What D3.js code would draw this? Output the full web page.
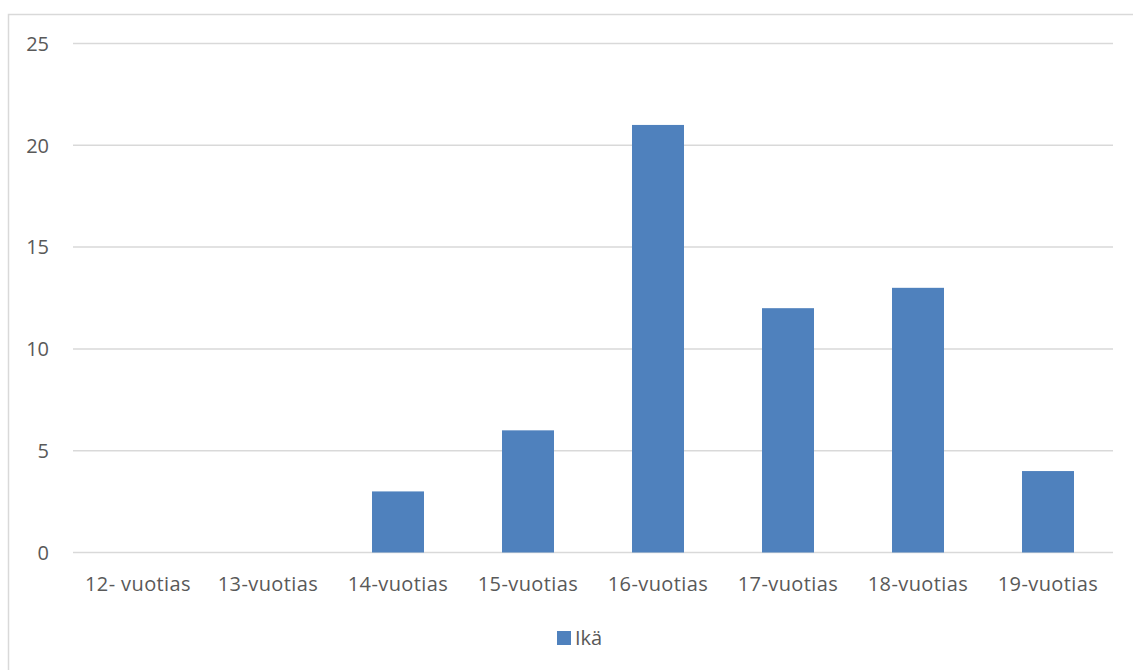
<!DOCTYPE html>
<html>
<head>
<meta charset="utf-8">
<script src="https://cdn.jsdelivr.net/npm/d3@7"></script>
<style>
  html, body { margin: 0; padding: 0; background: #fff; }
  svg { display: block; }
  text { font-family: "Open Sans", "Liberation Sans", Arial, sans-serif; fill: #595959; }
</style>
</head>
<body>
<svg id="chart" width="1133" height="670"></svg>
<script>
// Age distribution of respondents
const categories = ["12- vuotias", "13-vuotias", "14-vuotias", "15-vuotias", "16-vuotias", "17-vuotias", "18-vuotias", "19-vuotias"];
const values = [0, 0, 3, 6, 21, 12, 13, 4];
const yTicks = [0, 5, 10, 15, 20, 25];
const seriesName = "Ikä";

const svg = d3.select("#chart");
const W = 1133, H = 670;
const plot = { left: 73, right: 1113, top: 43.5, bottom: 552.5 };
const barColor = "#4f81bd";
const fontSize = 20;

// outer chart frame
svg.append("rect")
  .attr("x", 8.5).attr("y", 14.5)
  .attr("width", W + 10).attr("height", H + 10)
  .attr("fill", "#fff").attr("stroke", "#d9d9d9").attr("stroke-width", 1.5);

const x = d3.scaleBand().domain(categories).range([plot.left, plot.right]).padding(0);
const y = d3.scaleLinear().domain([0, 25]).range([plot.bottom, plot.top]);

// horizontal gridlines
svg.append("g")
  .selectAll("line")
  .data(yTicks)
  .join("line")
  .attr("x1", plot.left).attr("x2", plot.right)
  .attr("y1", d => y(d)).attr("y2", d => y(d))
  .attr("stroke", "#d9d9d9").attr("stroke-width", 1.5);

// y-axis labels
svg.append("g")
  .selectAll("text")
  .data(yTicks)
  .join("text")
  .attr("x", 49).attr("y", d => y(d))
  .attr("dy", "0.36em")
  .attr("text-anchor", "end")
  .attr("font-size", fontSize)
  .text(d => d);

// bars
const barW = x.bandwidth() * 0.4;
svg.append("g")
  .selectAll("rect")
  .data(values)
  .join("rect")
  .attr("x", (d, i) => x(categories[i]) + (x.bandwidth() - barW) / 2)
  .attr("width", barW)
  .attr("y", d => y(d))
  .attr("height", d => y(0) - y(d))
  .attr("fill", barColor);

// category labels
svg.append("g")
  .selectAll("text")
  .data(categories)
  .join("text")
  .attr("x", d => x(d) + x.bandwidth() / 2)
  .attr("y", 591)
  .attr("text-anchor", "middle")
  .attr("font-size", fontSize)
  .attr("letter-spacing", 0.4)
  .text(d => d);

// legend
const legend = svg.append("g");
legend.append("rect")
  .attr("x", 557).attr("y", 631)
  .attr("width", 14).attr("height", 14)
  .attr("fill", barColor);
legend.append("text")
  .attr("x", 575).attr("y", 645)
  .attr("font-size", fontSize)
  .text(seriesName);
</script>
</body>
</html>
